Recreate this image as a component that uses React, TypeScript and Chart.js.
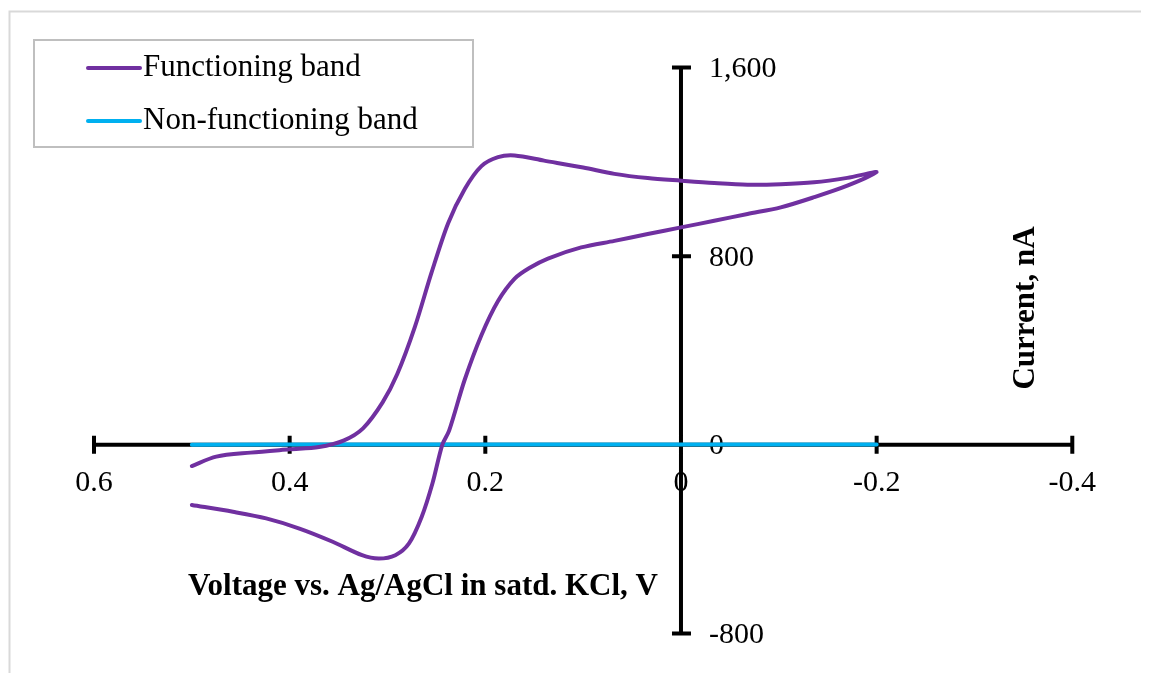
import { useEffect, useRef } from "react";
import { Chart, registerables } from "chart.js";

Chart.register(...registerables);

// Cyclic voltammogram of the functioning band: forward sweep 0.5 V -> -0.2 V, then back to 0.5 V
const functioningVoltage = [
  0.5, 0.475, 0.44, 0.4, 0.37, 0.345, 0.325, 0.305, 0.29, 0.272, 0.255, 0.238, 0.221, 0.204, 0.187,
  0.17, 0.14, 0.1, 0.068, 0.034, 0.0, -0.034, -0.068, -0.102, -0.136, -0.17, -0.2,
  -0.17, -0.136, -0.102, -0.068, -0.034, 0.0, 0.034, 0.068, 0.102, 0.136, 0.155, 0.17, 0.187,
  0.204, 0.221, 0.237, 0.244, 0.254, 0.265, 0.278, 0.292, 0.309, 0.326, 0.356, 0.39, 0.424, 0.458, 0.5,
];
const functioningCurrent = [
  -90, -50, -33, -19, -9, 18, 70, 180, 300, 500, 730, 940, 1085, 1182, 1220,
  1227, 1205, 1176, 1149, 1131, 1120, 1110, 1103, 1105, 1113, 1132, 1156,
  1099, 1050, 1007, 979, 950, 922, 894, 865, 837, 790, 750, 705, 610,
  465, 277, 60, 0, -163, -305, -418, -468, -482, -468, -411, -355, -312, -284, -255,
];

// Non-functioning band: flat response over the same sweep window
const nonFunctioningVoltage = [0.5, 0.4, 0.3, 0.2, 0.1, 0.0, -0.1, -0.2];
const nonFunctioningCurrent = [0, 1, 1, 1, 1, 1, 1, 1];

const seriesNames = ["Functioning band", "Non-functioning band"];
const seriesColors = ["#7030A0", "#00B0F0"];

const voltageTicks = [0.6, 0.4, 0.2, 0, -0.2, -0.4];
const voltageTickLabels = ["0.6", "0.4", "0.2", "0", "-0.2", "-0.4"];
const currentTicks = [1600, 800, 0, -800];
const currentTickLabels = ["1,600", "800", "0", "-800"];

const xTitle = "Voltage vs. Ag/AgCl in satd. KCl, V";
const yTitle = "Current, nA";

const SERIF = '"Liberation Serif", "Times New Roman", serif';

function toPoints(xs: number[], ys: number[]) {
  return xs.map((v, i) => ({ x: v, y: ys[i] }));
}

// Draws the frame, the crossing axes with their tick marks and labels, titles and legend box
const crossAxesPlugin = {
  id: "crossAxes",
  beforeDraw(chart: any) {
    const { ctx, width, height } = chart;
    ctx.save();
    ctx.fillStyle = "#ffffff";
    ctx.fillRect(0, 0, width, height);
    ctx.strokeStyle = "#d9d9d9";
    ctx.lineWidth = 2;
    ctx.strokeRect(1.5, 3.5, width + 20, height + 20);
    ctx.restore();
  },
  beforeDatasetsDraw(chart: any) {
    const { ctx } = chart;
    const xs = chart.scales.x;
    const ys = chart.scales.y;
    const x0 = xs.getPixelForValue(0);
    const y0 = ys.getPixelForValue(0);
    ctx.save();
    ctx.strokeStyle = "#000000";
    ctx.lineWidth = 4;
    ctx.beginPath();
    ctx.moveTo(xs.left, y0);
    ctx.lineTo(xs.right, y0);
    ctx.moveTo(x0, ys.top);
    ctx.lineTo(x0, ys.bottom);
    voltageTicks.forEach((v) => {
      const px = xs.getPixelForValue(v);
      ctx.moveTo(px, y0 - 9);
      ctx.lineTo(px, y0 + 9);
    });
    currentTicks.forEach((v) => {
      const py = ys.getPixelForValue(v);
      ctx.moveTo(x0 - 9, py);
      ctx.lineTo(x0 + 10, py);
    });
    ctx.stroke();

    ctx.fillStyle = "#000000";
    ctx.font = `30px ${SERIF}`;
    ctx.textBaseline = "alphabetic";
    ctx.textAlign = "center";
    voltageTicks.forEach((v, i) => {
      ctx.fillText(voltageTickLabels[i], xs.getPixelForValue(v), y0 + 46);
    });
    ctx.textAlign = "left";
    currentTicks.forEach((v, i) => {
      ctx.fillText(currentTickLabels[i], x0 + 28, ys.getPixelForValue(v) + 9.5);
    });

    ctx.font = `bold 31px ${SERIF}`;
    ctx.textAlign = "center";
    ctx.fillText(xTitle, 415, 587);
    ctx.save();
    ctx.translate(1018, 300);
    ctx.rotate(-Math.PI / 2);
    ctx.textBaseline = "middle";
    ctx.fillText(yTitle, 0, 0);
    ctx.restore();

    // legend
    ctx.strokeStyle = "#bfbfbf";
    ctx.lineWidth = 2;
    ctx.strokeRect(26, 32, 439, 107);
    ctx.font = `31px ${SERIF}`;
    ctx.textAlign = "left";
    ctx.textBaseline = "alphabetic";
    const rows = [60, 113];
    chart.data.datasets.forEach((ds: any, i: number) => {
      ctx.strokeStyle = ds.borderColor;
      ctx.lineWidth = 4;
      ctx.lineCap = "round";
      ctx.beginPath();
      ctx.moveTo(80, rows[i]);
      ctx.lineTo(132, rows[i]);
      ctx.stroke();
      ctx.fillStyle = "#000000";
      ctx.fillText(ds.label, 135, rows[i] + 8);
    });
    ctx.restore();
  },
};

export default function App() {
  const canvasRef = useRef<HTMLCanvasElement | null>(null);

  useEffect(() => {
    if (!canvasRef.current) return;
    const chart = new Chart(canvasRef.current, {
      type: "scatter",
      data: {
        datasets: [
          {
            label: seriesNames[0],
            data: toPoints(functioningVoltage, functioningCurrent),
            borderColor: seriesColors[0],
            backgroundColor: seriesColors[0],
            showLine: true,
            borderWidth: 4,
            pointRadius: 0,
            tension: 0.3,
            borderCapStyle: "round",
            borderJoinStyle: "round",
          },
          {
            label: seriesNames[1],
            data: toPoints(nonFunctioningVoltage, nonFunctioningCurrent),
            borderColor: seriesColors[1],
            backgroundColor: seriesColors[1],
            showLine: true,
            borderWidth: 4,
            pointRadius: 0,
            tension: 0,
            borderCapStyle: "round",
          },
        ],
      },
      options: {
        animation: false,
        responsive: true,
        maintainAspectRatio: false,
        layout: { padding: { left: 86, right: 76.7, top: 59.5, bottom: 47.5 } },
        scales: {
          x: { type: "linear", reverse: true, min: -0.4, max: 0.6, display: false },
          y: { type: "linear", min: -800, max: 1600, display: false },
        },
        plugins: {
          legend: { display: false },
          tooltip: { enabled: false },
        },
      },
      plugins: [crossAxesPlugin],
    });
    return () => chart.destroy();
  }, []);

  return (
    <div style={{ position: "relative", width: "1141px", height: "673px", marginBottom: "-8px" }}>
      <canvas ref={canvasRef} />
    </div>
  );
}
